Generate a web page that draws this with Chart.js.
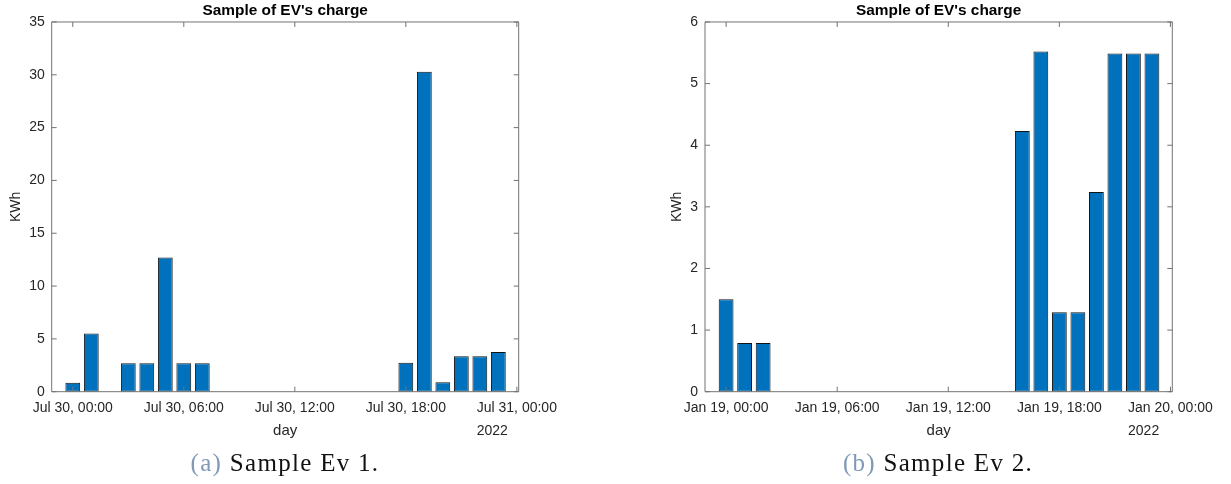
<!DOCTYPE html>
<html><head><meta charset="utf-8">
<script src="https://cdn.jsdelivr.net/npm/chart.js@4.4.1/dist/chart.umd.min.js"></script>
<style>
html,body{margin:0;padding:0;background:#fff;}
#wrap{position:relative;width:1231px;height:484px;overflow:hidden;background:#fff;}
canvas{position:absolute;top:0;}
.cap{position:absolute;top:449px;line-height:28px;font-family:'Liberation Serif','Times New Roman',serif;font-size:25px;letter-spacing:1.3px;color:#111;white-space:nowrap;transform:translateX(-50%);}
.cap .lbl{color:#7f98b6;}
</style></head>
<body><div id="wrap">
<canvas id="c1" width="615" height="484" style="left:0"></canvas>
<canvas id="c2" width="616" height="484" style="left:615px"></canvas>
<div class="cap" style="left:285px"><span class="lbl">(a)</span> Sample Ev 1.</div>
<div class="cap" style="left:938px"><span class="lbl">(b)</span> Sample Ev 2.</div>
</div>
<script>
// ---- data ----
const hours = [0,1,2,3,4,5,6,7,8,9,10,11,12,13,14,15,16,17,18,19,20,21,22,23];
const ev1Values = [0.85,5.5,0,2.7,2.7,12.7,2.7,2.7,0,0,0,0,0,0,0,0,0,0,2.75,30.3,0.9,3.35,3.35,3.75];
const ev2Values = [1.5,0.79,0.79,0,0,0,0,0,0,0,0,0,0,0,0,0,4.23,5.52,1.29,1.29,3.24,5.49,5.49,5.49];
const tickHours = [0,6,12,18,24];
const ev1TickLabels = ['Jul 30, 00:00','Jul 30, 06:00','Jul 30, 12:00','Jul 30, 18:00','Jul 31, 00:00'];
const ev2TickLabels = ['Jan 19, 00:00','Jan 19, 06:00','Jan 19, 12:00','Jan 19, 18:00','Jan 20, 00:00'];
const ev1Year = '2022';
const ev2Year = '2022';
const chartTitle = "Sample of EV's charge";
const xTitle = 'day';
const yTitle = 'KWh';

const FONT = "'Liberation Sans', Arial, Helvetica, sans-serif";
const TXT = '#262626';

const framePlugin = {
  id: 'frame',
  afterDraw(chart, args, opts) {
    const {ctx, chartArea: a, scales: {x, y}} = chart;
    ctx.save();
    ctx.strokeStyle = '#737373';
    ctx.lineWidth = 1;
    ctx.beginPath();
    ctx.rect(a.left, a.top, a.right - a.left, a.bottom - a.top);
    ctx.stroke();
    const tl = 5;
    ctx.beginPath();
    x.ticks.forEach(t => {
      const px = x.getPixelForValue(t.value);
      ctx.moveTo(px, a.bottom); ctx.lineTo(px, a.bottom - tl);
      ctx.moveTo(px, a.top); ctx.lineTo(px, a.top + tl);
    });
    y.ticks.forEach(t => {
      const py = y.getPixelForValue(t.value);
      ctx.moveTo(a.left, py); ctx.lineTo(a.left + tl, py);
      ctx.moveTo(a.right, py); ctx.lineTo(a.right - tl, py);
    });
    ctx.stroke();
    // secondary (year) label under last tick label
    ctx.font = '14px ' + FONT;
    ctx.fillStyle = TXT;
    ctx.textAlign = 'left';
    ctx.textBaseline = 'middle';
    const labs = opts.tickLabels;
    const last = labs.length - 1;
    const w = ctx.measureText(labs[last]).width;
    ctx.fillText(opts.year, x.getPixelForValue(tickHours[last]) - w / 2, 431);
    ctx.restore();
  }
};

function makeChart(id, values, tickLabels, year, yMax, yStep, yAxisWidth, rightPad, yTitlePad) {
  return new Chart(document.getElementById(id), {
    type: 'bar',
    data: {
      datasets: [{
        data: hours.map((h, i) => ({x: h, y: values[i]})),
        backgroundColor: '#0072BD',
        borderColor: '#141414',
        borderWidth: 1,
        borderSkipped: false,
        barPercentage: 0.8,
        categoryPercentage: 1.0
      }]
    },
    options: {
      responsive: false,
      animation: false,
      devicePixelRatio: 1,
      layout: {padding: {left: 0, right: rightPad, top: 0, bottom: 0}},
      plugins: {
        legend: {display: false},
        tooltip: {enabled: false},
        title: {
          display: true, text: chartTitle, fullSize: false, color: '#000',
          font: {family: FONT, size: 15.4, weight: 'bold'},
          padding: {top: 1.5, bottom: 2}
        },
        frame: {tickLabels, year}
      },
      scales: {
        x: {
          type: 'linear', min: -1.14, max: 24.1, offset: false,
          grid: {display: false, drawTicks: false, offset: false},
          border: {display: false},
          afterBuildTicks: s => { s.ticks = tickHours.map(v => ({value: v})); },
          afterFit: s => { s.height = 92.3; },
          ticks: {
            autoSkip: false, maxRotation: 0, minRotation: 0, padding: 8, color: TXT,
            font: {family: FONT, size: 14},
            callback: (v, i) => tickLabels[i]
          },
          title: {display: true, text: xTitle, color: TXT, font: {family: FONT, size: 15}, padding: {top: 0, bottom: 44}}
        },
        y: {
          min: 0, max: yMax,
          grid: {display: false, drawTicks: false},
          border: {display: false},
          afterFit: s => { s.width = yAxisWidth; },
          ticks: {stepSize: yStep, padding: 7, color: TXT, font: {family: FONT, size: 14}},
          title: {display: true, text: yTitle, color: TXT, font: {family: FONT, size: 14}, padding: {top: yTitlePad, bottom: 0}}
        }
      }
    },
    plugins: [framePlugin]
  });
}

makeChart('c1', ev1Values, ev1TickLabels, ev1Year, 35, 5, 51.7, 615 - 518.7, 7.6);
makeChart('c2', ev2Values, ev2TickLabels, ev2Year, 6, 1, 90, 616 - 557.3, 53.6);
</script>
</body></html>
